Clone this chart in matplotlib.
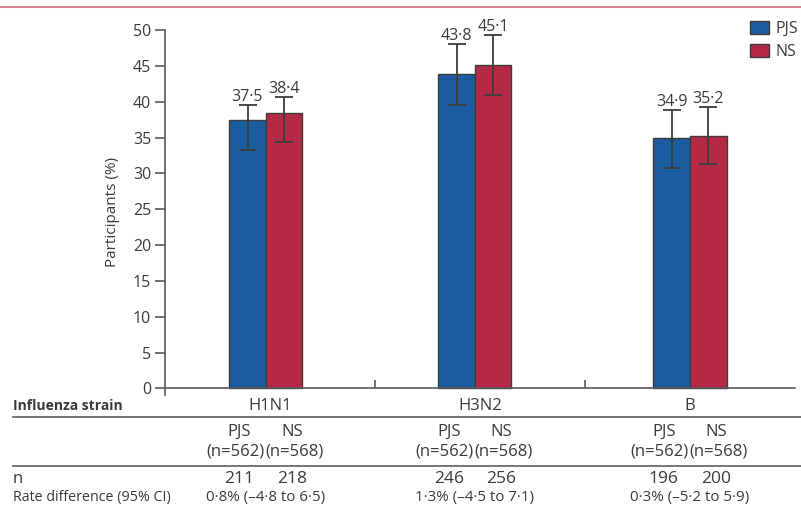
import matplotlib.pyplot as plt
import matplotlib.transforms as mtransforms
from matplotlib.patches import Patch

plt.rcParams['font.family'] = ['Open Sans', 'DejaVu Sans']

strains = ["H1N1", "H3N2", "B"]
pjs_pct = [37.5, 43.8, 34.9]
ns_pct = [38.4, 45.1, 35.2]
pjs_lo = [33.3, 39.5, 30.8]
pjs_hi = [39.6, 48.0, 38.9]
ns_lo = [34.4, 40.9, 31.3]
ns_hi = [40.6, 49.3, 39.2]
pjs_total = 562
ns_total = 568
pjs_n = [211, 246, 196]
ns_n = [218, 256, 200]
rate_diff = ["0·8% (–4·8 to 6·5)", "1·3% (–4·5 to 7·1)", "0·3% (–5·2 to 5·9)"]

blue = "#1a5c9e"
red = "#b42a46"
edge = "#3c3c3c"
txt = "#3a3a3a"
axcol = "#5a5a5a"
fs = 11.5      # chart text
tfs = 12       # table text

fig = plt.figure(figsize=(8.01, 5.16), dpi=100)
W, H = 801, 516
y0_px, y50_px = 388.5, 30
ymin = -0.9
per = (y0_px - y50_px) / 50
bottom_px = y0_px - ymin * per
ax = fig.add_axes([165 / W, 1 - bottom_px / H, (795 - 165) / W, (bottom_px - y50_px) / H])

# group centres sit a bit left of the section centres in the original
centres = [0.48, 1.476, 2.5]
bw = 0.174
for i in range(len(strains)):
    xp = centres[i] - bw / 2
    xn = centres[i] + bw / 2
    ax.bar(xp, pjs_pct[i], bw, color=blue, edgecolor=edge, linewidth=1.0, zorder=2)
    ax.bar(xn, ns_pct[i], bw, color=red, edgecolor=edge, linewidth=1.0, zorder=2)
    ax.errorbar(xp, pjs_pct[i], yerr=[[pjs_pct[i] - pjs_lo[i]], [pjs_hi[i] - pjs_pct[i]]],
                fmt='none', ecolor=edge, elinewidth=1.3, capsize=6.5, capthick=1.3, zorder=3)
    ax.errorbar(xn, ns_pct[i], yerr=[[ns_pct[i] - ns_lo[i]], [ns_hi[i] - ns_pct[i]]],
                fmt='none', ecolor=edge, elinewidth=1.3, capsize=6.5, capthick=1.3, zorder=3)
    ax.annotate(f"{pjs_pct[i]:.1f}".replace(".", "·"), (xp, pjs_hi[i]), xytext=(0, 0),
                textcoords='offset points', ha='center', va='bottom', fontsize=fs, color=txt)
    ax.annotate(f"{ns_pct[i]:.1f}".replace(".", "·"), (xn, ns_hi[i]), xytext=(0, 0),
                textcoords='offset points', ha='center', va='bottom', fontsize=fs, color=txt)

ax.set_xlim(0, 3)
ax.set_ylim(ymin, 50)
ax.set_yticks(range(0, 51, 5))
ax.set_xticks([1, 2])
ax.set_xticklabels([])
ax.tick_params(axis='x', direction='in', length=6, width=1.2, color=axcol)
ax.tick_params(axis='y', direction='out', length=7, width=1.2, color=axcol,
               labelsize=fs, labelcolor=txt, pad=3)
for s in ['top', 'right']:
    ax.spines[s].set_visible(False)
ax.spines['bottom'].set_position(('data', 0))
ax.spines['left'].set_bounds(ymin, 50)
for s in ['left', 'bottom']:
    ax.spines[s].set_color(axcol)
    ax.spines[s].set_linewidth(1.2)
ax.set_ylabel("Participants (%)", fontsize=11, color=txt, labelpad=9)

leg = ax.legend(handles=[Patch(facecolor=blue, edgecolor=edge, label="PJS"),
                         Patch(facecolor=red, edgecolor=edge, label="NS")],
                loc='upper left', bbox_to_anchor=(750 / W, 1 - 21 / H),
                bbox_transform=fig.transFigure, frameon=False, fontsize=fs,
                handlelength=1.2, handleheight=0.85, handletextpad=0.4,
                labelspacing=0.45, borderpad=0, borderaxespad=0)
for t in leg.get_texts():
    t.set_color(txt)

# table under the chart
tr = mtransforms.blended_transform_factory(ax.transData, fig.transFigure)


def fy(p):
    return 1 - p / H


fig.text(13 / W, fy(406), "Influenza strain", fontsize=10, fontweight='bold',
         color=txt, va='center', ha='left')
fig.text(13 / W, fy(479), "n", fontsize=tfs, color=txt, va='center', ha='left')
fig.text(13 / W, fy(497), "Rate difference (95% CI)", fontsize=10.3, color=txt,
         va='center', ha='left')
for i in range(len(strains)):
    c = centres[i]
    ax.text(i + 0.5, fy(406), strains[i], transform=tr, fontsize=tfs, color=txt,
            ha='center', va='center')
    ax.text(c - 0.125, fy(432), "PJS", transform=tr, fontsize=tfs, color=txt,
            ha='center', va='center')
    ax.text(c + 0.125, fy(432), "NS", transform=tr, fontsize=tfs, color=txt,
            ha='center', va='center')
    ax.text(c - 0.145, fy(452), f"(n={pjs_total})", transform=tr, fontsize=tfs,
            color=txt, ha='center', va='center')
    ax.text(c + 0.138, fy(452), f"(n={ns_total})", transform=tr, fontsize=tfs,
            color=txt, ha='center', va='center')
    ax.text(c - 0.125, fy(479), str(pjs_n[i]), transform=tr, fontsize=12.5, color=txt,
            ha='center', va='center')
    ax.text(c + 0.125, fy(479), str(ns_n[i]), transform=tr, fontsize=12.5, color=txt,
            ha='center', va='center')
    ax.text(c, fy(497), rate_diff[i], transform=tr, fontsize=10.9, color=txt,
            ha='center', va='center')

for yy in [417, 466]:
    fig.add_artist(plt.Line2D([13 / W, 1], [fy(yy), fy(yy)], color="#6a6a6a",
                              linewidth=1.3, transform=fig.transFigure))
fig.add_artist(plt.Line2D([0, 1], [fy(7), fy(7)], color="#d98797", linewidth=1.5,
                          transform=fig.transFigure))

fig.savefig("out.png", dpi=100)
